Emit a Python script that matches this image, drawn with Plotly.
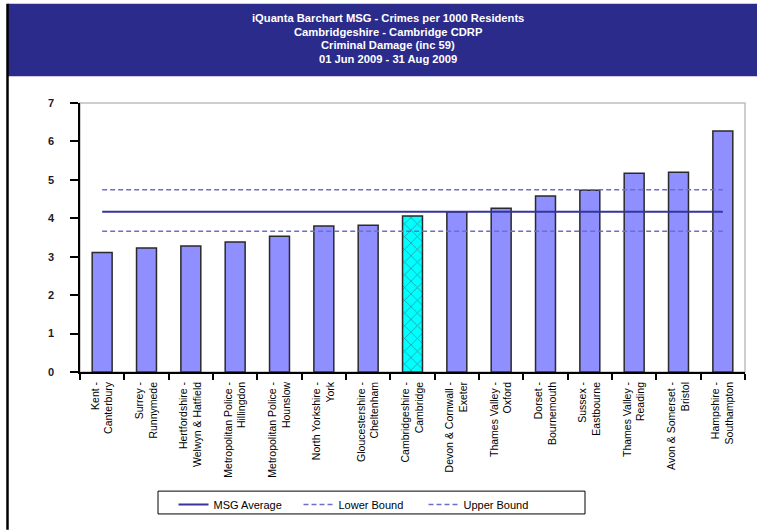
import plotly.graph_objects as go

# ---- data ----
forces = ["Kent", "Surrey", "Hertfordshire", "Metropolitan Police", "Metropolitan Police",
          "North Yorkshire", "Gloucestershire", "Cambridgeshire", "Devon & Cornwall",
          "Thames Valley", "Dorset", "Sussex", "Thames Valley", "Avon & Somerset", "Hampshire"]
areas = ["Canterbury", "Runnymede", "Welwyn & Hatfield", "Hillingdon", "Hounslow",
         "York", "Cheltenham", "Cambridge", "Exeter", "Oxford", "Bournemouth",
         "Eastbourne", "Reading", "Bristol", "Southampton"]
rates = [3.11, 3.23, 3.28, 3.38, 3.53, 3.80, 3.82, 4.06, 4.17, 4.26, 4.58, 4.73, 5.17, 5.20, 6.27]
highlight = "Cambridge"
msg_average = 4.17
lower_bound = 3.66
upper_bound = 4.74
y_ticks = [0, 1, 2, 3, 4, 5, 6, 7]
title_lines = ["iQuanta Barchart MSG - Crimes per 1000 Residents",
               "Cambridgeshire - Cambridge CDRP",
               "Criminal Damage (inc 59)",
               "01 Jun 2009 - 31 Aug 2009"]

categories = [f"{f} -<br>{a}" for f, a in zip(forces, areas)]

# ---- figure geometry ----
W, H = 757, 531
L, R, T, B = 80, 12, 103, 157
pw, ph = W - L - R, H - T - B

def px(x):
    return (x - L) / pw

def py(y):
    return (H - B - y) / ph

BAR = "#8F8FFF"
HL = "#00FFFF"
colors = [HL if a == highlight else BAR for a in areas]
shapes_pat = ["x" if a == highlight else "" for a in areas]

fig = go.Figure()
fig.add_trace(go.Bar(
    x=categories, y=rates, showlegend=False,
    marker=dict(color=colors, line=dict(color="#2a2a2a", width=1.5),
                pattern=dict(shape=shapes_pat, fillmode="overlay", fgcolor="#000000",
                             size=9, solidity=0.18)),
    hoverinfo="x+y",
))
fig.add_trace(go.Scatter(x=categories, y=[msg_average] * len(categories), mode="lines",
                         name="MSG Average", line=dict(color="#35359C", width=2)))
fig.add_trace(go.Scatter(x=categories, y=[lower_bound] * len(categories), mode="lines",
                         name="Lower Bound", line=dict(color="#6E6ECC", width=1.5, dash="5px,3px")))
fig.add_trace(go.Scatter(x=categories, y=[upper_bound] * len(categories), mode="lines",
                         name="Upper Bound", line=dict(color="#6E6ECC", width=1.5, dash="5px,3px")))

tick_font = dict(family="Liberation Sans, Arial", size=10.5, color="#000000")

title_ann = [
    dict(xref="paper", yref="paper", x=px(388), y=py(yc), xanchor="center", yanchor="middle",
         text=f"<b>{t}</b>", showarrow=False,
         font=dict(family="Liberation Sans, Arial", size=11.2, color="white"))
    for t, yc in zip(title_lines, [17, 31, 45, 59])
]

fig.update_layout(
    width=W, height=H,
    margin=dict(l=L, r=R, t=T, b=B),
    paper_bgcolor="white", plot_bgcolor="white",
    bargap=0.55,
    font=dict(family="Liberation Sans, Arial", size=11, color="#000000"),
    xaxis=dict(type="category", tickangle=-90, tickfont=tick_font, automargin=False,
               showline=True, linecolor="#000000", linewidth=1.5,
               ticks="outside", tickson="boundaries", ticklen=6, tickcolor="#000000", tickwidth=1.5,
               ticklabelstandoff=4,
               showgrid=False, zeroline=False, range=[-0.5, len(categories) - 0.5]),
    yaxis=dict(range=[0, 7], tickvals=y_ticks, showline=True, linecolor="#000000", linewidth=1.5,
               ticks="outside", ticklen=8, tickcolor="#000000", tickwidth=1.5, automargin=False,
               tickfont=dict(family="Liberation Sans, Arial", size=11, color="#1a1a2a", weight="bold"),
               ticklabelstandoff=14, showgrid=False, zeroline=False),
    legend=dict(orientation="h", x=px(361), xanchor="center", y=py(493), yanchor="top",
                borderwidth=0, bgcolor="rgba(0,0,0,0)",
                font=dict(family="Liberation Sans, Arial", size=11, color="#000000"),
                itemwidth=30, entrywidth=80),
    shapes=[
        # plot frame (grey top/right)
        dict(type="rect", xref="paper", yref="paper", x0=0, x1=1, y0=0, y1=1,
             line=dict(color="#BFBFBF", width=1.5), layer="below"),
        # title banner
        dict(type="rect", xref="paper", yref="paper", x0=px(8), x1=px(760), y0=py(76), y1=py(3),
             fillcolor="#2B2B8C", line=dict(width=0), layer="below"),
        # left border of the chart box
        dict(type="line", xref="paper", yref="paper", x0=px(7.5), x1=px(7.5), y0=py(3), y1=py(533),
             line=dict(color="#000000", width=2.5)),
        # legend box
        dict(type="rect", xref="paper", yref="paper", x0=px(158), x1=px(585), y0=py(517), y1=py(494),
             line=dict(color="#000000", width=1), fillcolor="white", layer="below"),
    ],
    annotations=title_ann,
)

fig.write_html("out.html", config={"displayModeBar": False},
               post_script="document.body.style.margin='0';document.body.style.overflow='hidden';")
